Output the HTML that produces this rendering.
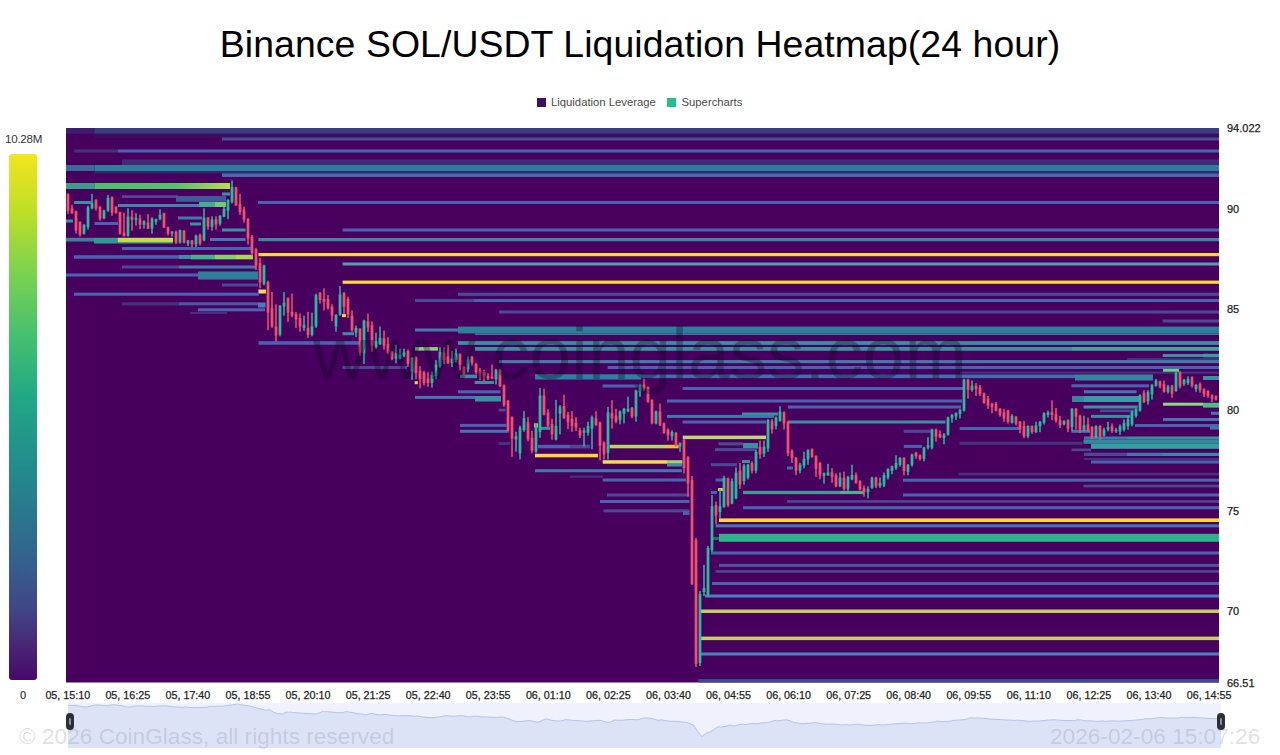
<!DOCTYPE html>
<html><head><meta charset="utf-8"><title>Binance SOL/USDT Liquidation Heatmap</title>
<style>
html,body{margin:0;padding:0;background:#fff;}
body{width:1280px;height:755px;position:relative;overflow:hidden;font-family:"Liberation Sans",sans-serif;}
.title{position:absolute;left:0;width:1280px;top:22px;text-align:center;font-size:37.4px;line-height:44px;color:#000;letter-spacing:0.08px;white-space:nowrap;}
.legend{position:absolute;top:95px;left:0;width:1280px;height:14px;font-size:11.3px;color:#4a4a4a;}
.legend .sq{position:absolute;top:2.5px;width:9.5px;height:9.5px;}
.legend span{position:absolute;top:0;line-height:14px;white-space:nowrap;}
.cbar{position:absolute;left:9px;top:154px;width:28px;height:525.7px;border-radius:3px;background:linear-gradient(to top,#48086a 0%,#482475 6%,#414487 13%,#355f8d 22%,#2a788e 32%,#21918c 43%,#22a884 54%,#44bf70 65%,#7ad151 77%,#bddf26 89%,#f3e51e 100%);}
.cl{position:absolute;font-size:11px;color:#333;white-space:nowrap;}
.xl{-webkit-text-stroke:0.25px #222;position:absolute;top:688px;width:80px;text-align:center;font-size:10.75px;line-height:14px;color:#222;white-space:nowrap;}
.yl{-webkit-text-stroke:0.25px #222;position:absolute;left:1227px;font-size:11px;line-height:14px;color:#222;white-space:nowrap;}
.wm{position:absolute;z-index:5;font-size:22.65px;color:rgba(120,120,130,0.24);white-space:nowrap;line-height:26px;}
.handle{position:absolute;z-index:6;top:713px;width:8px;height:17px;border-radius:4px;background:#2b2f3a;}
.handle i{position:absolute;left:3px;top:5px;width:2px;height:7px;background:#8a8fa0;border-radius:1px;}
svg{position:absolute;left:0;top:0;}
</style></head><body>
<div class="title">Binance SOL/USDT Liquidation Heatmap(24 hour)</div>
<div class="legend">
<div class="sq" style="left:536.5px;background:#3b1261"></div><span style="left:551px">Liquidation Leverage</span>
<div class="sq" style="left:666.5px;background:#1fc08c"></div><span style="left:681.5px">Supercharts</span>
</div>
<div class="cl" style="left:5px;top:131.5px;font-size:11.6px;letter-spacing:-0.25px">10.28M</div>
<div class="cbar"></div>
<div class="cl" style="left:20px;top:688.8px;-webkit-text-stroke:0.2px #333">0</div>
<svg width="1280" height="755" viewBox="0 0 1280 755">
<defs><linearGradient id="gg1" x1="0" x2="1" y1="0" y2="0"><stop offset="0" stop-color="#4fc06a"/><stop offset="0.6" stop-color="#52c26a"/><stop offset="0.85" stop-color="#8fd45c"/><stop offset="1" stop-color="#b8dc50"/></linearGradient><filter id="bl" x="-2%" y="-2%" width="104%" height="104%"><feGaussianBlur stdDeviation="0.55"/></filter></defs><g filter="url(#bl)">
<rect x="66" y="128" width="1153" height="554.5" fill="#47065d"/>
<rect x="66.0" y="128.0" width="28.6" height="5.8" fill="#3b1f70"/>
<rect x="94.6" y="128.0" width="1124.4" height="5.8" fill="#3a3d82"/>
<rect x="94.6" y="133.8" width="1124.4" height="3.7" fill="#3d0c5e"/>
<rect x="222.0" y="137.5" width="997.0" height="3.0" fill="#4d4c98"/>
<rect x="74.0" y="149.5" width="44.0" height="3.0" fill="#45307f"/>
<rect x="118.0" y="149.5" width="1101.0" height="3.0" fill="#4a64b0"/>
<rect x="122.0" y="159.6" width="1097.0" height="5.4" fill="#432a78"/>
<rect x="66.0" y="165.0" width="28.6" height="6.0" fill="#3a6a9a"/>
<rect x="94.6" y="165.0" width="1124.4" height="6.2" fill="#2e7d9a"/>
<rect x="94.6" y="171.2" width="1124.4" height="2.1" fill="#2f2c74"/>
<rect x="222.0" y="173.4" width="997.0" height="3.6" fill="#4a68b0"/>
<rect x="66.0" y="183.0" width="28.6" height="6.0" fill="#3f9a8a"/>
<rect x="94.6" y="183.0" width="135.4" height="6.0" fill="url(#gg1)"/>
<rect x="222.0" y="192.5" width="8.0" height="3.0" fill="#3a8fa2"/>
<rect x="122.0" y="195.3" width="56.0" height="2.6" fill="#54489a"/>
<rect x="176.0" y="196.0" width="50.0" height="5.8" fill="#3f5a9a"/>
<rect x="74.0" y="201.0" width="17.0" height="3.0" fill="#3a8fa2"/>
<rect x="258.0" y="201.0" width="961.0" height="3.0" fill="#4a64b0"/>
<rect x="118.0" y="204.0" width="81.0" height="3.0" fill="#3f86a8"/>
<rect x="199.0" y="202.0" width="16.0" height="5.0" fill="#3fae8a"/>
<rect x="215.0" y="202.0" width="11.0" height="5.0" fill="#6fcf70"/>
<rect x="178.0" y="216.5" width="24.0" height="3.0" fill="#4278ad"/>
<rect x="66.0" y="219.5" width="7.0" height="3.0" fill="#3a8fa2"/>
<rect x="94.6" y="222.0" width="23.4" height="3.0" fill="#4a64b0"/>
<rect x="190.0" y="222.5" width="11.0" height="3.0" fill="#3a8fa2"/>
<rect x="222.0" y="228.5" width="23.5" height="3.0" fill="#3a8fa2"/>
<rect x="342.6" y="228.5" width="876.4" height="3.0" fill="#4a64b0"/>
<rect x="66.0" y="237.8" width="28.0" height="3.7" fill="#3f7f9a"/>
<rect x="94.0" y="237.8" width="23.6" height="5.7" fill="#2f9a96"/>
<rect x="117.6" y="237.8" width="55.4" height="4.2" fill="#c5dc50"/>
<rect x="117.6" y="242.0" width="55.4" height="1.5" fill="#3fa08a"/>
<rect x="210.0" y="238.0" width="35.5" height="3.0" fill="#4278ad"/>
<rect x="258.4" y="238.0" width="960.6" height="3.2" fill="#3f86a0"/>
<rect x="122.0" y="247.0" width="129.0" height="3.0" fill="#4a64b0"/>
<rect x="258.4" y="253.0" width="960.6" height="3.2" fill="#fdd63a"/>
<rect x="74.0" y="255.2" width="105.0" height="3.5" fill="#4a64b0"/>
<rect x="179.0" y="255.0" width="12.0" height="4.0" fill="#3a8fa2"/>
<rect x="191.0" y="254.8" width="24.0" height="4.5" fill="#3fb58a"/>
<rect x="215.0" y="254.8" width="21.0" height="4.5" fill="#7fd565"/>
<rect x="236.0" y="254.8" width="17.0" height="4.5" fill="#a5da55"/>
<rect x="342.6" y="262.5" width="876.4" height="3.0" fill="#5b9ab0"/>
<rect x="122.0" y="265.5" width="57.0" height="3.0" fill="#4c4a95"/>
<rect x="179.0" y="265.5" width="77.0" height="3.0" fill="#4278ad"/>
<rect x="198.0" y="271.5" width="60.0" height="8.0" fill="#2f7f9c"/>
<rect x="66.0" y="273.5" width="132.0" height="3.0" fill="#4a64b0"/>
<rect x="342.6" y="280.6" width="876.4" height="3.2" fill="#fdd63a"/>
<rect x="222.0" y="283.5" width="36.0" height="3.0" fill="#4c4a95"/>
<rect x="258.4" y="289.5" width="7.6" height="4.0" fill="#f0e050"/>
<rect x="74.0" y="292.7" width="185.0" height="3.0" fill="#4a64b0"/>
<rect x="458.0" y="292.8" width="761.0" height="3.0" fill="#4c4a95"/>
<rect x="415.0" y="299.0" width="59.0" height="3.0" fill="#4c4a95"/>
<rect x="474.0" y="299.0" width="745.0" height="3.0" fill="#4a64b0"/>
<rect x="122.0" y="302.3" width="57.0" height="3.0" fill="#45307f"/>
<rect x="179.0" y="302.3" width="79.0" height="3.0" fill="#4a5aa5"/>
<rect x="258.0" y="302.5" width="7.6" height="5.0" fill="#4a7ab5"/>
<rect x="198.0" y="308.3" width="67.0" height="3.0" fill="#4a64b0"/>
<rect x="190.0" y="312.0" width="37.0" height="2.0" fill="#45307f"/>
<rect x="499.0" y="310.5" width="720.0" height="3.0" fill="#4c4a95"/>
<rect x="342.0" y="314.1" width="4.0" height="3.0" fill="#fdd63a"/>
<rect x="1162.7" y="319.5" width="56.3" height="3.0" fill="#4c4a95"/>
<rect x="415.0" y="328.5" width="43.0" height="3.0" fill="#4278ad"/>
<rect x="458.0" y="326.6" width="761.0" height="6.8" fill="#2f7f9b"/>
<rect x="475.0" y="333.4" width="744.0" height="1.6" fill="#357a9c"/>
<rect x="342.5" y="332.2" width="11.5" height="3.0" fill="#3a8fa2"/>
<rect x="258.6" y="341.2" width="100.4" height="3.5" fill="#4a64b0"/>
<rect x="458.0" y="341.1" width="761.0" height="3.8" fill="#3a8fa0"/>
<rect x="415.0" y="347.1" width="23.0" height="3.5" fill="#8fd080"/>
<rect x="475.0" y="347.0" width="597.0" height="3.8" fill="#3a90a0"/>
<rect x="1072.0" y="347.0" width="147.0" height="3.8" fill="#3fa59a"/>
<rect x="1162.7" y="354.0" width="40.3" height="3.0" fill="#3a8fa2"/>
<rect x="1203.0" y="353.8" width="16.0" height="3.5" fill="#35a0a0"/>
<rect x="1127.0" y="358.0" width="92.0" height="2.0" fill="#45307f"/>
<rect x="499.0" y="360.1" width="720.0" height="3.0" fill="#3f80a8"/>
<rect x="342.5" y="366.0" width="64.5" height="3.0" fill="#4c4a95"/>
<rect x="607.6" y="366.0" width="611.4" height="3.0" fill="#4a64b0"/>
<rect x="1163.0" y="368.9" width="16.0" height="3.5" fill="#6fd080"/>
<rect x="960.0" y="371.7" width="259.0" height="2.0" fill="#45307f"/>
<rect x="460.0" y="374.6" width="17.0" height="3.5" fill="#3a8fa2"/>
<rect x="535.0" y="374.3" width="106.0" height="5.2" fill="#2f80a0"/>
<rect x="641.0" y="374.6" width="434.0" height="3.5" fill="#4070b0"/>
<rect x="1075.0" y="374.5" width="78.0" height="6.0" fill="#3585a0"/>
<rect x="1203.0" y="376.0" width="16.0" height="4.0" fill="#3a8fa2"/>
<rect x="474.6" y="381.0" width="19.4" height="3.0" fill="#3a8fa2"/>
<rect x="414.7" y="381.2" width="3.1" height="3.0" fill="#fdd63a"/>
<rect x="602.7" y="384.5" width="35.3" height="3.0" fill="#4a64b0"/>
<rect x="1071.5" y="384.3" width="77.5" height="3.0" fill="#4a64b0"/>
<rect x="682.7" y="387.0" width="280.3" height="3.0" fill="#4a64b0"/>
<rect x="458.0" y="390.3" width="42.5" height="3.0" fill="#4a64b0"/>
<rect x="1084.0" y="390.3" width="52.5" height="3.0" fill="#4278ad"/>
<rect x="415.0" y="395.9" width="60.0" height="3.0" fill="#4278ad"/>
<rect x="475.0" y="396.0" width="26.0" height="5.5" fill="#3a8fa2"/>
<rect x="1072.0" y="396.0" width="12.0" height="6.0" fill="#3585a0"/>
<rect x="1084.0" y="396.0" width="57.0" height="6.0" fill="#3a9aa5"/>
<rect x="667.0" y="399.5" width="295.0" height="3.0" fill="#4a64b0"/>
<rect x="1163.0" y="402.7" width="40.0" height="3.0" fill="#90d880"/>
<rect x="1203.0" y="402.8" width="16.0" height="4.8" fill="#4cc080"/>
<rect x="788.0" y="405.5" width="173.0" height="3.0" fill="#4a64b0"/>
<rect x="1083.5" y="405.5" width="54.2" height="3.0" fill="#3a8fa2"/>
<rect x="498.7" y="408.8" width="6.9" height="2.5" fill="#4c4a95"/>
<rect x="1211.0" y="411.8" width="8.0" height="3.0" fill="#4278ad"/>
<rect x="1100.0" y="409.6" width="34.0" height="2.5" fill="#4c4a95"/>
<rect x="742.0" y="412.5" width="36.0" height="3.0" fill="#3a8fa2"/>
<rect x="667.0" y="414.9" width="107.0" height="3.0" fill="#4278ad"/>
<rect x="1091.0" y="414.9" width="39.5" height="3.0" fill="#3a8fa2"/>
<rect x="1163.0" y="418.0" width="56.0" height="3.0" fill="#4278ad"/>
<rect x="682.7" y="420.5" width="83.3" height="3.0" fill="#4a64b0"/>
<rect x="788.0" y="420.5" width="157.4" height="3.0" fill="#3a8fa2"/>
<rect x="460.0" y="423.9" width="46.5" height="3.0" fill="#4a64b0"/>
<rect x="534.0" y="423.4" width="4.0" height="4.0" fill="#fdd63a"/>
<rect x="1135.0" y="424.0" width="84.0" height="3.0" fill="#4a64b0"/>
<rect x="540.0" y="426.8" width="10.0" height="3.0" fill="#3a8fa2"/>
<rect x="959.7" y="427.0" width="59.3" height="3.0" fill="#4a64b0"/>
<rect x="1210.0" y="426.5" width="9.0" height="3.0" fill="#4278ad"/>
<rect x="460.0" y="429.8" width="47.0" height="3.0" fill="#4278ad"/>
<rect x="903.8" y="429.8" width="27.2" height="3.0" fill="#4c4a95"/>
<rect x="1071.5" y="429.8" width="18.5" height="3.0" fill="#4278ad"/>
<rect x="682.7" y="435.6" width="83.3" height="3.5" fill="#c0d870"/>
<rect x="1084.0" y="436.5" width="43.0" height="3.0" fill="#4278ad"/>
<rect x="1127.0" y="436.5" width="92.0" height="3.0" fill="#3a8fa2"/>
<rect x="1083.5" y="439.5" width="135.5" height="4.3" fill="#2f8a9c"/>
<rect x="1091.0" y="443.8" width="128.0" height="5.0" fill="#35a0a0"/>
<rect x="498.7" y="442.0" width="11.3" height="3.0" fill="#45307f"/>
<rect x="718.5" y="442.3" width="24.5" height="3.0" fill="#4c4a95"/>
<rect x="743.0" y="443.0" width="15.0" height="5.5" fill="#3a8fa2"/>
<rect x="959.7" y="441.9" width="122.9" height="3.0" fill="#45307f"/>
<rect x="538.0" y="444.8" width="52.0" height="3.5" fill="#4a64b0"/>
<rect x="570.0" y="445.0" width="20.0" height="3.0" fill="#4c4a95"/>
<rect x="609.6" y="444.8" width="56.4" height="3.5" fill="#b5d860"/>
<rect x="666.0" y="444.8" width="12.7" height="3.5" fill="#f5c040"/>
<rect x="903.8" y="444.9" width="18.2" height="3.0" fill="#4a64b0"/>
<rect x="715.0" y="448.1" width="41.6" height="3.0" fill="#4c4a95"/>
<rect x="1071.5" y="448.6" width="19.5" height="2.5" fill="#4c4a95"/>
<rect x="1084.0" y="452.8" width="43.0" height="3.2" fill="#4c4a95"/>
<rect x="1127.0" y="452.8" width="36.0" height="3.2" fill="#4278ad"/>
<rect x="1163.0" y="452.8" width="56.0" height="3.2" fill="#3a88a8"/>
<rect x="535.0" y="453.8" width="63.0" height="3.5" fill="#fdd63a"/>
<rect x="1084.0" y="458.0" width="135.0" height="2.0" fill="#45307f"/>
<rect x="602.7" y="460.2" width="64.3" height="3.5" fill="#f0dc50"/>
<rect x="667.0" y="460.2" width="15.3" height="3.5" fill="#a5d565"/>
<rect x="742.0" y="460.0" width="8.0" height="3.0" fill="#3a8fa2"/>
<rect x="1091.0" y="460.5" width="128.0" height="3.0" fill="#4a64b0"/>
<rect x="667.0" y="463.5" width="15.0" height="3.0" fill="#3a8fa2"/>
<rect x="711.0" y="463.2" width="26.0" height="3.0" fill="#4c4a95"/>
<rect x="787.0" y="466.5" width="6.0" height="3.0" fill="#4a64b0"/>
<rect x="535.0" y="469.2" width="147.0" height="3.0" fill="#4278ad"/>
<rect x="958.6" y="472.8" width="260.4" height="2.5" fill="#45307f"/>
<rect x="570.0" y="475.7" width="33.0" height="2.0" fill="#45307f"/>
<rect x="602.7" y="478.5" width="83.3" height="3.0" fill="#4a64b0"/>
<rect x="715.6" y="478.5" width="8.4" height="3.0" fill="#4a64b0"/>
<rect x="903.0" y="478.7" width="316.0" height="3.0" fill="#4a64b0"/>
<rect x="1083.5" y="484.8" width="135.5" height="2.5" fill="#4c4a95"/>
<rect x="718.0" y="488.0" width="4.8" height="3.0" fill="#fdd63a"/>
<rect x="711.0" y="491.0" width="6.0" height="3.0" fill="#4a64b0"/>
<rect x="743.0" y="490.9" width="97.0" height="3.2" fill="#3f9a9a"/>
<rect x="840.0" y="490.9" width="24.0" height="3.2" fill="#4fae90"/>
<rect x="607.0" y="493.5" width="82.4" height="3.0" fill="#4c4a95"/>
<rect x="903.0" y="493.5" width="316.0" height="3.0" fill="#4a64b0"/>
<rect x="600.0" y="500.0" width="89.4" height="3.0" fill="#4a64b0"/>
<rect x="787.0" y="500.2" width="432.0" height="2.5" fill="#4c4a95"/>
<rect x="743.0" y="506.2" width="476.0" height="3.0" fill="#4a64b0"/>
<rect x="603.6" y="509.3" width="85.8" height="3.0" fill="#4c4a95"/>
<rect x="683.0" y="511.0" width="6.4" height="4.0" fill="#4a64b0"/>
<rect x="719.0" y="518.4" width="500.0" height="3.6" fill="#fdd63a"/>
<rect x="715.7" y="524.3" width="503.3" height="3.0" fill="#4278ad"/>
<rect x="712.0" y="537.0" width="7.0" height="3.0" fill="#2a6a7a"/>
<rect x="719.0" y="533.8" width="500.0" height="8.0" fill="#2fb38a"/>
<rect x="711.0" y="551.5" width="508.0" height="3.0" fill="#4a64b0"/>
<rect x="719.0" y="563.9" width="500.0" height="3.0" fill="#4a55a0"/>
<rect x="715.7" y="570.2" width="503.3" height="2.5" fill="#4c4a95"/>
<rect x="712.0" y="582.0" width="507.0" height="3.0" fill="#4a64b0"/>
<rect x="705.0" y="594.5" width="514.0" height="3.0" fill="#4a7fc0"/>
<rect x="700.0" y="609.5" width="519.0" height="3.5" fill="#c4cf62"/>
<rect x="700.0" y="636.6" width="519.0" height="3.5" fill="#c6cf60"/>
<rect x="701.0" y="652.5" width="518.0" height="3.0" fill="#4a80c0"/>
<rect x="698.4" y="679.0" width="520.6" height="3.5" fill="#3a4a90"/>
<rect x="67.25" y="193.4" width="1.5" height="20.4" fill="#f0516f"/>
<rect x="66.65" y="193.9" width="2.7" height="16.9" fill="#f0516f"/>
<rect x="71.25" y="204.8" width="1.5" height="8.9" fill="#f0516f"/>
<rect x="70.65" y="208.3" width="2.7" height="5.0" fill="#f0516f"/>
<rect x="75.25" y="210.7" width="1.5" height="22.8" fill="#f0516f"/>
<rect x="74.65" y="211.2" width="2.7" height="19.4" fill="#f0516f"/>
<rect x="79.25" y="221.7" width="1.5" height="14.9" fill="#f0516f"/>
<rect x="78.65" y="221.7" width="2.7" height="12.9" fill="#f0516f"/>
<rect x="83.25" y="224.2" width="1.5" height="10.4" fill="#2fb89f"/>
<rect x="82.65" y="224.7" width="2.7" height="8.9" fill="#2fb89f"/>
<rect x="87.25" y="205.8" width="1.5" height="23.8" fill="#2fb89f"/>
<rect x="86.65" y="207.3" width="2.7" height="19.9" fill="#2fb89f"/>
<rect x="91.25" y="193.9" width="1.5" height="15.4" fill="#2fb89f"/>
<rect x="90.65" y="202.8" width="2.7" height="5.5" fill="#2fb89f"/>
<rect x="95.25" y="199.3" width="1.5" height="11.4" fill="#f0516f"/>
<rect x="94.65" y="199.8" width="2.7" height="8.9" fill="#f0516f"/>
<rect x="99.25" y="206.3" width="1.5" height="14.4" fill="#f0516f"/>
<rect x="98.65" y="206.8" width="2.7" height="11.9" fill="#f0516f"/>
<rect x="103.25" y="209.8" width="1.5" height="9.4" fill="#2fb89f"/>
<rect x="102.65" y="210.3" width="2.7" height="7.9" fill="#2fb89f"/>
<rect x="107.25" y="194.9" width="1.5" height="16.9" fill="#2fb89f"/>
<rect x="106.65" y="197.8" width="2.7" height="12.9" fill="#2fb89f"/>
<rect x="111.25" y="196.4" width="1.5" height="19.4" fill="#f0516f"/>
<rect x="110.65" y="197.3" width="2.7" height="15.4" fill="#f0516f"/>
<rect x="115.25" y="206.3" width="1.5" height="7.4" fill="#f0516f"/>
<rect x="114.65" y="206.8" width="2.7" height="6.0" fill="#f0516f"/>
<rect x="119.25" y="211.7" width="1.5" height="22.8" fill="#f0516f"/>
<rect x="118.65" y="212.2" width="2.7" height="21.4" fill="#f0516f"/>
<rect x="123.25" y="212.7" width="1.5" height="23.8" fill="#f0516f"/>
<rect x="122.65" y="232.6" width="2.7" height="3.5" fill="#f0516f"/>
<rect x="127.25" y="208.3" width="1.5" height="28.3" fill="#2fb89f"/>
<rect x="126.65" y="216.7" width="2.7" height="18.9" fill="#2fb89f"/>
<rect x="131.25" y="210.3" width="1.5" height="20.4" fill="#f0516f"/>
<rect x="130.65" y="216.7" width="2.7" height="3.0" fill="#f0516f"/>
<rect x="135.25" y="213.2" width="1.5" height="12.4" fill="#2fb89f"/>
<rect x="134.65" y="217.7" width="2.7" height="2.0" fill="#2fb89f"/>
<rect x="139.25" y="214.7" width="1.5" height="14.4" fill="#f0516f"/>
<rect x="138.65" y="218.7" width="2.7" height="6.0" fill="#f0516f"/>
<rect x="143.25" y="220.2" width="1.5" height="8.4" fill="#2fb89f"/>
<rect x="142.65" y="221.2" width="2.7" height="3.5" fill="#2fb89f"/>
<rect x="147.25" y="214.2" width="1.5" height="14.9" fill="#f0516f"/>
<rect x="146.65" y="222.7" width="2.7" height="6.0" fill="#f0516f"/>
<rect x="151.25" y="217.2" width="1.5" height="16.4" fill="#2fb89f"/>
<rect x="150.65" y="218.7" width="2.7" height="9.9" fill="#2fb89f"/>
<rect x="155.25" y="218.7" width="1.5" height="6.0" fill="#2fb89f"/>
<rect x="154.65" y="219.2" width="2.7" height="2.5" fill="#2fb89f"/>
<rect x="159.25" y="209.3" width="1.5" height="10.9" fill="#2fb89f"/>
<rect x="158.65" y="214.7" width="2.7" height="4.5" fill="#2fb89f"/>
<rect x="163.25" y="212.7" width="1.5" height="15.4" fill="#f0516f"/>
<rect x="162.65" y="213.2" width="2.7" height="14.4" fill="#f0516f"/>
<rect x="167.25" y="226.6" width="1.5" height="8.9" fill="#f0516f"/>
<rect x="166.65" y="227.1" width="2.7" height="6.5" fill="#f0516f"/>
<rect x="171.25" y="231.1" width="1.5" height="5.5" fill="#2fb89f"/>
<rect x="170.65" y="231.6" width="2.7" height="2.0" fill="#2fb89f"/>
<rect x="175.25" y="230.6" width="1.5" height="13.4" fill="#f0516f"/>
<rect x="174.65" y="231.6" width="2.7" height="10.9" fill="#f0516f"/>
<rect x="179.25" y="229.6" width="1.5" height="13.9" fill="#2fb89f"/>
<rect x="178.65" y="230.1" width="2.7" height="12.4" fill="#2fb89f"/>
<rect x="183.25" y="230.1" width="1.5" height="13.4" fill="#f0516f"/>
<rect x="182.65" y="230.6" width="2.7" height="11.9" fill="#f0516f"/>
<rect x="187.25" y="240.0" width="1.5" height="6.0" fill="#2fb89f"/>
<rect x="186.65" y="240.5" width="2.7" height="3.0" fill="#2fb89f"/>
<rect x="191.25" y="240.0" width="1.5" height="7.0" fill="#f0516f"/>
<rect x="190.65" y="240.5" width="2.7" height="4.0" fill="#f0516f"/>
<rect x="195.25" y="234.6" width="1.5" height="12.4" fill="#2fb89f"/>
<rect x="194.65" y="235.6" width="2.7" height="8.9" fill="#2fb89f"/>
<rect x="199.25" y="233.6" width="1.5" height="11.9" fill="#f0516f"/>
<rect x="198.65" y="235.1" width="2.7" height="8.4" fill="#f0516f"/>
<rect x="203.25" y="208.3" width="1.5" height="32.8" fill="#2fb89f"/>
<rect x="202.65" y="217.7" width="2.7" height="22.8" fill="#2fb89f"/>
<rect x="207.25" y="217.2" width="1.5" height="12.4" fill="#f0516f"/>
<rect x="206.65" y="217.7" width="2.7" height="8.9" fill="#f0516f"/>
<rect x="211.25" y="216.2" width="1.5" height="14.4" fill="#2fb89f"/>
<rect x="210.65" y="219.7" width="2.7" height="7.0" fill="#2fb89f"/>
<rect x="215.25" y="216.2" width="1.5" height="13.4" fill="#f0516f"/>
<rect x="214.65" y="219.2" width="2.7" height="5.5" fill="#f0516f"/>
<rect x="219.25" y="215.2" width="1.5" height="10.4" fill="#2fb89f"/>
<rect x="218.65" y="215.7" width="2.7" height="7.9" fill="#2fb89f"/>
<rect x="223.25" y="206.8" width="1.5" height="10.4" fill="#2fb89f"/>
<rect x="222.65" y="208.8" width="2.7" height="7.9" fill="#2fb89f"/>
<rect x="227.25" y="199.3" width="1.5" height="19.9" fill="#2fb89f"/>
<rect x="226.65" y="199.8" width="2.7" height="10.9" fill="#2fb89f"/>
<rect x="231.25" y="180.5" width="1.5" height="22.8" fill="#2fb89f"/>
<rect x="230.65" y="186.9" width="2.7" height="15.4" fill="#2fb89f"/>
<rect x="235.25" y="186.9" width="1.5" height="18.9" fill="#f0516f"/>
<rect x="234.65" y="187.4" width="2.7" height="17.9" fill="#f0516f"/>
<rect x="239.25" y="193.9" width="1.5" height="20.9" fill="#f0516f"/>
<rect x="238.65" y="203.8" width="2.7" height="8.4" fill="#f0516f"/>
<rect x="243.25" y="206.8" width="1.5" height="15.9" fill="#f0516f"/>
<rect x="242.65" y="209.3" width="2.7" height="10.4" fill="#f0516f"/>
<rect x="247.25" y="218.2" width="1.5" height="26.3" fill="#f0516f"/>
<rect x="246.65" y="218.7" width="2.7" height="19.9" fill="#f0516f"/>
<rect x="251.25" y="235.0" width="1.5" height="20.6" fill="#f0516f"/>
<rect x="250.65" y="236.5" width="2.7" height="16.8" fill="#f0516f"/>
<rect x="255.25" y="247.9" width="1.5" height="22.1" fill="#f0516f"/>
<rect x="254.65" y="249.5" width="2.7" height="16.0" fill="#f0516f"/>
<rect x="259.25" y="257.8" width="1.5" height="30.5" fill="#f0516f"/>
<rect x="258.65" y="263.2" width="2.7" height="19.0" fill="#f0516f"/>
<rect x="263.25" y="264.7" width="1.5" height="20.6" fill="#2fb89f"/>
<rect x="262.65" y="265.5" width="2.7" height="18.3" fill="#2fb89f"/>
<rect x="267.25" y="280.7" width="1.5" height="49.5" fill="#f0516f"/>
<rect x="266.65" y="282.2" width="2.7" height="30.5" fill="#f0516f"/>
<rect x="271.25" y="292.1" width="1.5" height="35.8" fill="#f0516f"/>
<rect x="270.65" y="308.1" width="2.7" height="18.3" fill="#f0516f"/>
<rect x="275.25" y="304.3" width="1.5" height="37.3" fill="#f0516f"/>
<rect x="274.65" y="326.4" width="2.7" height="9.1" fill="#f0516f"/>
<rect x="279.25" y="305.0" width="1.5" height="31.2" fill="#2fb89f"/>
<rect x="278.65" y="305.8" width="2.7" height="28.9" fill="#2fb89f"/>
<rect x="283.25" y="292.1" width="1.5" height="23.6" fill="#2fb89f"/>
<rect x="282.65" y="302.8" width="2.7" height="3.8" fill="#2fb89f"/>
<rect x="287.25" y="297.4" width="1.5" height="24.4" fill="#f0516f"/>
<rect x="286.65" y="298.2" width="2.7" height="14.5" fill="#f0516f"/>
<rect x="291.25" y="293.6" width="1.5" height="23.6" fill="#f0516f"/>
<rect x="290.65" y="311.9" width="2.7" height="3.8" fill="#f0516f"/>
<rect x="295.25" y="311.9" width="1.5" height="16.0" fill="#f0516f"/>
<rect x="294.65" y="314.2" width="2.7" height="5.3" fill="#f0516f"/>
<rect x="299.25" y="313.4" width="1.5" height="18.3" fill="#f0516f"/>
<rect x="298.65" y="318.0" width="2.7" height="8.4" fill="#f0516f"/>
<rect x="303.25" y="315.7" width="1.5" height="15.2" fill="#2fb89f"/>
<rect x="302.65" y="324.8" width="2.7" height="3.0" fill="#2fb89f"/>
<rect x="307.25" y="311.9" width="1.5" height="25.9" fill="#f0516f"/>
<rect x="306.65" y="327.9" width="2.7" height="6.9" fill="#f0516f"/>
<rect x="311.25" y="312.7" width="1.5" height="23.6" fill="#2fb89f"/>
<rect x="310.65" y="326.4" width="2.7" height="8.4" fill="#2fb89f"/>
<rect x="315.25" y="293.6" width="1.5" height="34.3" fill="#2fb89f"/>
<rect x="314.65" y="295.1" width="2.7" height="31.2" fill="#2fb89f"/>
<rect x="319.25" y="292.1" width="1.5" height="11.4" fill="#f0516f"/>
<rect x="318.65" y="292.9" width="2.7" height="6.9" fill="#f0516f"/>
<rect x="323.25" y="288.3" width="1.5" height="22.1" fill="#f0516f"/>
<rect x="322.65" y="299.0" width="2.7" height="3.0" fill="#f0516f"/>
<rect x="327.25" y="295.1" width="1.5" height="14.5" fill="#f0516f"/>
<rect x="326.65" y="299.0" width="2.7" height="9.1" fill="#f0516f"/>
<rect x="331.25" y="304.3" width="1.5" height="16.8" fill="#f0516f"/>
<rect x="330.65" y="306.6" width="2.7" height="9.1" fill="#f0516f"/>
<rect x="335.25" y="314.2" width="1.5" height="17.5" fill="#2fb89f"/>
<rect x="334.65" y="314.9" width="2.7" height="11.4" fill="#2fb89f"/>
<rect x="339.25" y="286.0" width="1.5" height="29.7" fill="#2fb89f"/>
<rect x="338.65" y="294.4" width="2.7" height="20.6" fill="#2fb89f"/>
<rect x="343.25" y="292.1" width="1.5" height="22.1" fill="#f0516f"/>
<rect x="342.65" y="292.9" width="2.7" height="13.7" fill="#f0516f"/>
<rect x="347.25" y="296.7" width="1.5" height="21.3" fill="#f0516f"/>
<rect x="346.65" y="299.0" width="2.7" height="15.2" fill="#f0516f"/>
<rect x="351.25" y="310.4" width="1.5" height="21.3" fill="#f0516f"/>
<rect x="350.65" y="315.7" width="2.7" height="14.5" fill="#f0516f"/>
<rect x="355.25" y="325.6" width="1.5" height="11.4" fill="#2fb89f"/>
<rect x="354.65" y="327.9" width="2.7" height="4.6" fill="#2fb89f"/>
<rect x="359.25" y="328.2" width="1.5" height="27.4" fill="#f0516f"/>
<rect x="358.65" y="328.9" width="2.7" height="23.6" fill="#f0516f"/>
<rect x="363.25" y="319.8" width="1.5" height="44.2" fill="#2fb89f"/>
<rect x="362.65" y="320.6" width="2.7" height="32.7" fill="#2fb89f"/>
<rect x="367.25" y="313.7" width="1.5" height="18.3" fill="#f0516f"/>
<rect x="366.65" y="321.3" width="2.7" height="6.1" fill="#f0516f"/>
<rect x="371.25" y="321.3" width="1.5" height="30.5" fill="#f0516f"/>
<rect x="370.65" y="325.1" width="2.7" height="20.6" fill="#f0516f"/>
<rect x="375.25" y="332.7" width="1.5" height="16.0" fill="#2fb89f"/>
<rect x="374.65" y="341.1" width="2.7" height="6.1" fill="#2fb89f"/>
<rect x="379.25" y="326.6" width="1.5" height="18.3" fill="#2fb89f"/>
<rect x="378.65" y="338.1" width="2.7" height="6.1" fill="#2fb89f"/>
<rect x="383.25" y="330.5" width="1.5" height="19.0" fill="#f0516f"/>
<rect x="382.65" y="338.1" width="2.7" height="7.6" fill="#f0516f"/>
<rect x="387.25" y="337.3" width="1.5" height="16.8" fill="#f0516f"/>
<rect x="386.65" y="344.2" width="2.7" height="8.4" fill="#f0516f"/>
<rect x="391.25" y="351.0" width="1.5" height="9.1" fill="#f0516f"/>
<rect x="390.65" y="351.8" width="2.7" height="6.9" fill="#f0516f"/>
<rect x="395.25" y="344.9" width="1.5" height="18.3" fill="#2fb89f"/>
<rect x="394.65" y="353.3" width="2.7" height="5.3" fill="#2fb89f"/>
<rect x="399.25" y="348.7" width="1.5" height="10.7" fill="#2fb89f"/>
<rect x="398.65" y="354.8" width="2.7" height="3.8" fill="#2fb89f"/>
<rect x="403.25" y="348.7" width="1.5" height="8.4" fill="#2fb89f"/>
<rect x="402.65" y="352.5" width="2.7" height="3.0" fill="#2fb89f"/>
<rect x="407.25" y="349.5" width="1.5" height="17.5" fill="#f0516f"/>
<rect x="406.65" y="351.0" width="2.7" height="12.9" fill="#f0516f"/>
<rect x="411.25" y="357.1" width="1.5" height="22.8" fill="#2fb89f"/>
<rect x="410.65" y="357.9" width="2.7" height="13.7" fill="#2fb89f"/>
<rect x="415.25" y="356.3" width="1.5" height="22.8" fill="#f0516f"/>
<rect x="414.65" y="357.1" width="2.7" height="16.0" fill="#f0516f"/>
<rect x="419.25" y="366.2" width="1.5" height="22.1" fill="#f0516f"/>
<rect x="418.65" y="370.8" width="2.7" height="8.4" fill="#f0516f"/>
<rect x="423.25" y="370.8" width="1.5" height="14.5" fill="#f0516f"/>
<rect x="422.65" y="372.3" width="2.7" height="10.7" fill="#f0516f"/>
<rect x="427.25" y="372.3" width="1.5" height="14.5" fill="#f0516f"/>
<rect x="426.65" y="378.4" width="2.7" height="4.6" fill="#f0516f"/>
<rect x="431.25" y="371.6" width="1.5" height="16.0" fill="#2fb89f"/>
<rect x="430.65" y="374.6" width="2.7" height="8.4" fill="#2fb89f"/>
<rect x="435.25" y="360.1" width="1.5" height="19.0" fill="#2fb89f"/>
<rect x="434.65" y="364.7" width="2.7" height="11.4" fill="#2fb89f"/>
<rect x="439.25" y="347.2" width="1.5" height="20.6" fill="#2fb89f"/>
<rect x="438.65" y="351.8" width="2.7" height="14.5" fill="#2fb89f"/>
<rect x="443.25" y="347.2" width="1.5" height="16.8" fill="#f0516f"/>
<rect x="442.65" y="352.5" width="2.7" height="7.6" fill="#f0516f"/>
<rect x="447.25" y="344.9" width="1.5" height="19.0" fill="#f0516f"/>
<rect x="446.65" y="356.3" width="2.7" height="6.9" fill="#f0516f"/>
<rect x="451.25" y="351.0" width="1.5" height="16.0" fill="#2fb89f"/>
<rect x="450.65" y="358.6" width="2.7" height="4.6" fill="#2fb89f"/>
<rect x="455.25" y="348.7" width="1.5" height="13.7" fill="#2fb89f"/>
<rect x="454.65" y="353.3" width="2.7" height="6.9" fill="#2fb89f"/>
<rect x="459.25" y="353.3" width="1.5" height="16.8" fill="#f0516f"/>
<rect x="458.65" y="354.1" width="2.7" height="10.7" fill="#f0516f"/>
<rect x="463.25" y="366.2" width="1.5" height="9.9" fill="#f0516f"/>
<rect x="462.65" y="367.0" width="2.7" height="7.6" fill="#f0516f"/>
<rect x="467.25" y="356.3" width="1.5" height="16.0" fill="#2fb89f"/>
<rect x="466.65" y="359.4" width="2.7" height="9.9" fill="#2fb89f"/>
<rect x="471.25" y="356.0" width="1.5" height="9.5" fill="#f0516f"/>
<rect x="470.65" y="356.9" width="2.7" height="6.0" fill="#f0516f"/>
<rect x="475.25" y="362.9" width="1.5" height="11.2" fill="#f0516f"/>
<rect x="474.65" y="363.8" width="2.7" height="8.6" fill="#f0516f"/>
<rect x="479.25" y="368.1" width="1.5" height="12.1" fill="#f0516f"/>
<rect x="478.65" y="370.7" width="2.7" height="2.6" fill="#f0516f"/>
<rect x="483.25" y="369.8" width="1.5" height="11.2" fill="#f0516f"/>
<rect x="482.65" y="372.4" width="2.7" height="4.3" fill="#f0516f"/>
<rect x="487.25" y="373.2" width="1.5" height="6.9" fill="#f0516f"/>
<rect x="486.65" y="375.8" width="2.7" height="2.6" fill="#f0516f"/>
<rect x="491.25" y="364.6" width="1.5" height="14.6" fill="#f0516f"/>
<rect x="490.65" y="376.7" width="2.7" height="1.7" fill="#f0516f"/>
<rect x="495.25" y="368.9" width="1.5" height="15.5" fill="#2fb89f"/>
<rect x="494.65" y="369.8" width="2.7" height="9.5" fill="#2fb89f"/>
<rect x="499.25" y="368.9" width="1.5" height="18.1" fill="#f0516f"/>
<rect x="498.65" y="369.8" width="2.7" height="16.4" fill="#f0516f"/>
<rect x="503.25" y="384.4" width="1.5" height="22.4" fill="#f0516f"/>
<rect x="502.65" y="385.3" width="2.7" height="19.8" fill="#f0516f"/>
<rect x="507.25" y="399.9" width="1.5" height="32.7" fill="#f0516f"/>
<rect x="506.65" y="400.8" width="2.7" height="30.1" fill="#f0516f"/>
<rect x="511.25" y="416.3" width="1.5" height="40.5" fill="#f0516f"/>
<rect x="510.65" y="417.1" width="2.7" height="21.5" fill="#f0516f"/>
<rect x="515.25" y="431.8" width="1.5" height="19.8" fill="#2fb89f"/>
<rect x="514.65" y="436.1" width="2.7" height="3.4" fill="#2fb89f"/>
<rect x="519.25" y="425.8" width="1.5" height="33.6" fill="#2fb89f"/>
<rect x="518.65" y="427.5" width="2.7" height="25.8" fill="#2fb89f"/>
<rect x="523.25" y="411.1" width="1.5" height="20.7" fill="#2fb89f"/>
<rect x="522.65" y="418.0" width="2.7" height="12.1" fill="#2fb89f"/>
<rect x="527.25" y="417.1" width="1.5" height="24.1" fill="#f0516f"/>
<rect x="526.65" y="422.3" width="2.7" height="17.2" fill="#f0516f"/>
<rect x="531.25" y="430.9" width="1.5" height="22.4" fill="#f0516f"/>
<rect x="530.65" y="437.8" width="2.7" height="12.9" fill="#f0516f"/>
<rect x="535.25" y="423.2" width="1.5" height="30.1" fill="#2fb89f"/>
<rect x="534.65" y="424.0" width="2.7" height="27.5" fill="#2fb89f"/>
<rect x="539.25" y="387.9" width="1.5" height="49.9" fill="#2fb89f"/>
<rect x="538.65" y="395.6" width="2.7" height="36.2" fill="#2fb89f"/>
<rect x="543.25" y="388.7" width="1.5" height="26.7" fill="#f0516f"/>
<rect x="542.65" y="395.6" width="2.7" height="18.9" fill="#f0516f"/>
<rect x="547.25" y="409.4" width="1.5" height="18.1" fill="#f0516f"/>
<rect x="546.65" y="412.8" width="2.7" height="12.9" fill="#f0516f"/>
<rect x="551.25" y="418.9" width="1.5" height="20.7" fill="#f0516f"/>
<rect x="550.65" y="424.0" width="2.7" height="10.3" fill="#f0516f"/>
<rect x="555.25" y="399.9" width="1.5" height="40.5" fill="#2fb89f"/>
<rect x="554.65" y="425.8" width="2.7" height="13.8" fill="#2fb89f"/>
<rect x="559.25" y="405.1" width="1.5" height="29.3" fill="#2fb89f"/>
<rect x="558.65" y="406.8" width="2.7" height="6.9" fill="#2fb89f"/>
<rect x="563.25" y="394.8" width="1.5" height="24.1" fill="#f0516f"/>
<rect x="562.65" y="406.0" width="2.7" height="12.1" fill="#f0516f"/>
<rect x="567.25" y="412.0" width="1.5" height="17.2" fill="#f0516f"/>
<rect x="566.65" y="414.6" width="2.7" height="7.7" fill="#f0516f"/>
<rect x="571.25" y="411.1" width="1.5" height="20.7" fill="#f0516f"/>
<rect x="570.65" y="418.9" width="2.7" height="6.9" fill="#f0516f"/>
<rect x="575.25" y="417.1" width="1.5" height="13.8" fill="#f0516f"/>
<rect x="574.65" y="422.3" width="2.7" height="5.2" fill="#f0516f"/>
<rect x="579.25" y="427.7" width="1.5" height="10.3" fill="#f0516f"/>
<rect x="578.65" y="430.3" width="2.7" height="5.2" fill="#f0516f"/>
<rect x="583.25" y="427.7" width="1.5" height="18.9" fill="#2fb89f"/>
<rect x="582.65" y="430.3" width="2.7" height="2.6" fill="#2fb89f"/>
<rect x="587.25" y="421.7" width="1.5" height="13.8" fill="#2fb89f"/>
<rect x="586.65" y="426.0" width="2.7" height="6.9" fill="#2fb89f"/>
<rect x="591.25" y="415.6" width="1.5" height="33.6" fill="#2fb89f"/>
<rect x="590.65" y="417.3" width="2.7" height="11.2" fill="#2fb89f"/>
<rect x="595.25" y="411.3" width="1.5" height="14.6" fill="#f0516f"/>
<rect x="594.65" y="418.2" width="2.7" height="6.9" fill="#f0516f"/>
<rect x="599.25" y="421.7" width="1.5" height="38.7" fill="#f0516f"/>
<rect x="598.65" y="422.5" width="2.7" height="23.2" fill="#f0516f"/>
<rect x="603.25" y="441.5" width="1.5" height="18.1" fill="#f0516f"/>
<rect x="602.65" y="442.3" width="2.7" height="12.1" fill="#f0516f"/>
<rect x="607.25" y="407.0" width="1.5" height="52.5" fill="#2fb89f"/>
<rect x="606.65" y="412.2" width="2.7" height="40.5" fill="#2fb89f"/>
<rect x="611.25" y="400.1" width="1.5" height="28.4" fill="#f0516f"/>
<rect x="610.65" y="413.0" width="2.7" height="5.2" fill="#f0516f"/>
<rect x="615.25" y="408.7" width="1.5" height="14.6" fill="#f0516f"/>
<rect x="614.65" y="415.6" width="2.7" height="6.0" fill="#f0516f"/>
<rect x="619.25" y="410.5" width="1.5" height="13.8" fill="#2fb89f"/>
<rect x="618.65" y="411.3" width="2.7" height="8.6" fill="#2fb89f"/>
<rect x="623.25" y="407.9" width="1.5" height="15.5" fill="#2fb89f"/>
<rect x="622.65" y="408.7" width="2.7" height="5.2" fill="#2fb89f"/>
<rect x="627.25" y="396.7" width="1.5" height="15.5" fill="#2fb89f"/>
<rect x="626.65" y="408.7" width="2.7" height="2.6" fill="#2fb89f"/>
<rect x="631.25" y="407.0" width="1.5" height="11.2" fill="#f0516f"/>
<rect x="630.65" y="407.9" width="2.7" height="8.6" fill="#f0516f"/>
<rect x="635.25" y="389.8" width="1.5" height="31.9" fill="#2fb89f"/>
<rect x="634.65" y="390.7" width="2.7" height="25.8" fill="#2fb89f"/>
<rect x="639.25" y="383.8" width="1.5" height="12.9" fill="#2fb89f"/>
<rect x="638.65" y="384.6" width="2.7" height="7.7" fill="#2fb89f"/>
<rect x="643.25" y="378.6" width="1.5" height="12.1" fill="#f0516f"/>
<rect x="642.65" y="384.6" width="2.7" height="4.3" fill="#f0516f"/>
<rect x="647.25" y="386.4" width="1.5" height="16.4" fill="#f0516f"/>
<rect x="646.65" y="387.2" width="2.7" height="14.6" fill="#f0516f"/>
<rect x="651.25" y="399.3" width="1.5" height="25.0" fill="#f0516f"/>
<rect x="650.65" y="400.1" width="2.7" height="23.2" fill="#f0516f"/>
<rect x="655.25" y="410.5" width="1.5" height="13.8" fill="#2fb89f"/>
<rect x="654.65" y="411.3" width="2.7" height="12.1" fill="#2fb89f"/>
<rect x="659.25" y="403.6" width="1.5" height="22.4" fill="#f0516f"/>
<rect x="658.65" y="411.3" width="2.7" height="13.8" fill="#f0516f"/>
<rect x="663.25" y="422.5" width="1.5" height="11.2" fill="#f0516f"/>
<rect x="662.65" y="423.4" width="2.7" height="9.5" fill="#f0516f"/>
<rect x="667.25" y="428.5" width="1.5" height="12.1" fill="#f0516f"/>
<rect x="666.65" y="429.4" width="2.7" height="6.0" fill="#f0516f"/>
<rect x="671.25" y="430.3" width="1.5" height="10.3" fill="#2fb89f"/>
<rect x="670.65" y="432.0" width="2.7" height="4.3" fill="#2fb89f"/>
<rect x="675.25" y="432.0" width="1.5" height="14.6" fill="#f0516f"/>
<rect x="674.65" y="432.9" width="2.7" height="12.9" fill="#f0516f"/>
<rect x="679.25" y="442.3" width="1.5" height="9.5" fill="#2fb89f"/>
<rect x="678.65" y="443.2" width="2.7" height="3.4" fill="#2fb89f"/>
<rect x="683.25" y="438.9" width="1.5" height="34.4" fill="#f0516f"/>
<rect x="682.65" y="439.8" width="2.7" height="28.4" fill="#f0516f"/>
<rect x="687.25" y="456.1" width="1.5" height="40.5" fill="#f0516f"/>
<rect x="686.65" y="457.0" width="2.7" height="26.7" fill="#f0516f"/>
<rect x="691.25" y="476.0" width="1.5" height="109.0" fill="#f0516f"/>
<rect x="690.65" y="480.0" width="2.7" height="104.0" fill="#f0516f"/>
<rect x="695.25" y="538.0" width="1.5" height="129.0" fill="#f0516f"/>
<rect x="694.65" y="540.0" width="2.7" height="124.0" fill="#f0516f"/>
<rect x="699.25" y="591.0" width="1.5" height="75.0" fill="#2fb89f"/>
<rect x="698.65" y="594.0" width="2.7" height="69.0" fill="#2fb89f"/>
<rect x="703.25" y="565.0" width="1.5" height="31.0" fill="#2fb89f"/>
<rect x="702.65" y="588.0" width="2.7" height="4.0" fill="#2fb89f"/>
<rect x="707.25" y="546.0" width="1.5" height="51.0" fill="#2fb89f"/>
<rect x="706.65" y="548.0" width="2.7" height="47.0" fill="#2fb89f"/>
<rect x="711.25" y="495.0" width="1.5" height="57.0" fill="#2fb89f"/>
<rect x="710.65" y="506.0" width="2.7" height="44.0" fill="#2fb89f"/>
<rect x="715.25" y="501.7" width="1.5" height="22.4" fill="#f0516f"/>
<rect x="714.65" y="505.2" width="2.7" height="10.3" fill="#f0516f"/>
<rect x="719.25" y="488.8" width="1.5" height="30.1" fill="#2fb89f"/>
<rect x="718.65" y="506.1" width="2.7" height="6.0" fill="#2fb89f"/>
<rect x="723.25" y="475.9" width="1.5" height="31.9" fill="#2fb89f"/>
<rect x="722.65" y="477.6" width="2.7" height="29.3" fill="#2fb89f"/>
<rect x="727.25" y="477.6" width="1.5" height="29.3" fill="#f0516f"/>
<rect x="726.65" y="478.5" width="2.7" height="26.7" fill="#f0516f"/>
<rect x="731.25" y="478.5" width="1.5" height="25.8" fill="#2fb89f"/>
<rect x="730.65" y="481.1" width="2.7" height="22.4" fill="#2fb89f"/>
<rect x="735.25" y="467.3" width="1.5" height="31.9" fill="#2fb89f"/>
<rect x="734.65" y="472.5" width="2.7" height="25.8" fill="#2fb89f"/>
<rect x="739.25" y="463.0" width="1.5" height="25.8" fill="#f0516f"/>
<rect x="738.65" y="470.8" width="2.7" height="13.8" fill="#f0516f"/>
<rect x="743.25" y="463.9" width="1.5" height="20.7" fill="#2fb89f"/>
<rect x="742.65" y="465.6" width="2.7" height="15.5" fill="#2fb89f"/>
<rect x="747.25" y="463.9" width="1.5" height="15.5" fill="#2fb89f"/>
<rect x="746.65" y="464.7" width="2.7" height="12.9" fill="#2fb89f"/>
<rect x="751.25" y="461.3" width="1.5" height="12.1" fill="#f0516f"/>
<rect x="750.65" y="463.0" width="2.7" height="7.7" fill="#f0516f"/>
<rect x="755.25" y="450.1" width="1.5" height="23.2" fill="#2fb89f"/>
<rect x="754.65" y="451.8" width="2.7" height="18.9" fill="#2fb89f"/>
<rect x="759.25" y="440.6" width="1.5" height="18.1" fill="#f0516f"/>
<rect x="758.65" y="446.7" width="2.7" height="7.7" fill="#f0516f"/>
<rect x="763.25" y="440.6" width="1.5" height="16.4" fill="#2fb89f"/>
<rect x="762.65" y="446.7" width="2.7" height="6.9" fill="#2fb89f"/>
<rect x="767.25" y="419.1" width="1.5" height="32.7" fill="#2fb89f"/>
<rect x="766.65" y="420.0" width="2.7" height="28.4" fill="#2fb89f"/>
<rect x="771.25" y="419.1" width="1.5" height="14.6" fill="#f0516f"/>
<rect x="770.65" y="420.8" width="2.7" height="8.6" fill="#f0516f"/>
<rect x="775.25" y="416.5" width="1.5" height="12.9" fill="#2fb89f"/>
<rect x="774.65" y="417.4" width="2.7" height="8.6" fill="#2fb89f"/>
<rect x="779.25" y="406.2" width="1.5" height="15.5" fill="#2fb89f"/>
<rect x="778.65" y="411.4" width="2.7" height="9.5" fill="#2fb89f"/>
<rect x="783.25" y="411.4" width="1.5" height="18.1" fill="#f0516f"/>
<rect x="782.65" y="412.2" width="2.7" height="11.2" fill="#f0516f"/>
<rect x="787.25" y="420.8" width="1.5" height="35.3" fill="#f0516f"/>
<rect x="786.65" y="421.7" width="2.7" height="31.9" fill="#f0516f"/>
<rect x="791.25" y="449.2" width="1.5" height="13.8" fill="#f0516f"/>
<rect x="790.65" y="451.0" width="2.7" height="6.9" fill="#f0516f"/>
<rect x="795.25" y="457.0" width="1.5" height="18.1" fill="#f0516f"/>
<rect x="794.65" y="457.8" width="2.7" height="12.9" fill="#f0516f"/>
<rect x="799.25" y="463.0" width="1.5" height="10.3" fill="#2fb89f"/>
<rect x="798.65" y="464.7" width="2.7" height="6.0" fill="#2fb89f"/>
<rect x="803.25" y="451.8" width="1.5" height="16.4" fill="#2fb89f"/>
<rect x="802.65" y="458.7" width="2.7" height="6.9" fill="#2fb89f"/>
<rect x="807.25" y="449.2" width="1.5" height="15.5" fill="#2fb89f"/>
<rect x="806.65" y="450.1" width="2.7" height="9.5" fill="#2fb89f"/>
<rect x="811.25" y="448.4" width="1.5" height="9.5" fill="#f0516f"/>
<rect x="810.65" y="449.2" width="2.7" height="7.7" fill="#f0516f"/>
<rect x="815.25" y="455.3" width="1.5" height="21.5" fill="#f0516f"/>
<rect x="814.65" y="456.1" width="2.7" height="12.9" fill="#f0516f"/>
<rect x="819.25" y="462.1" width="1.5" height="17.2" fill="#f0516f"/>
<rect x="818.65" y="463.0" width="2.7" height="12.1" fill="#f0516f"/>
<rect x="823.25" y="472.5" width="1.5" height="11.2" fill="#2fb89f"/>
<rect x="822.65" y="473.3" width="2.7" height="2.6" fill="#2fb89f"/>
<rect x="827.25" y="463.9" width="1.5" height="12.1" fill="#2fb89f"/>
<rect x="826.65" y="472.5" width="2.7" height="2.6" fill="#2fb89f"/>
<rect x="831.25" y="468.2" width="1.5" height="14.6" fill="#f0516f"/>
<rect x="830.65" y="472.5" width="2.7" height="4.3" fill="#f0516f"/>
<rect x="835.25" y="473.3" width="1.5" height="13.8" fill="#f0516f"/>
<rect x="834.65" y="475.1" width="2.7" height="11.2" fill="#f0516f"/>
<rect x="839.25" y="472.5" width="1.5" height="14.6" fill="#2fb89f"/>
<rect x="838.65" y="477.6" width="2.7" height="8.6" fill="#2fb89f"/>
<rect x="843.25" y="471.6" width="1.5" height="18.9" fill="#f0516f"/>
<rect x="842.65" y="477.6" width="2.7" height="11.2" fill="#f0516f"/>
<rect x="847.25" y="475.9" width="1.5" height="15.5" fill="#2fb89f"/>
<rect x="846.65" y="476.8" width="2.7" height="12.1" fill="#2fb89f"/>
<rect x="851.25" y="464.7" width="1.5" height="15.5" fill="#2fb89f"/>
<rect x="850.65" y="475.1" width="2.7" height="4.3" fill="#2fb89f"/>
<rect x="855.25" y="472.5" width="1.5" height="11.2" fill="#f0516f"/>
<rect x="854.65" y="475.1" width="2.7" height="7.7" fill="#f0516f"/>
<rect x="859.25" y="480.2" width="1.5" height="10.3" fill="#f0516f"/>
<rect x="858.65" y="481.1" width="2.7" height="8.6" fill="#f0516f"/>
<rect x="863.25" y="485.4" width="1.5" height="11.2" fill="#f0516f"/>
<rect x="862.65" y="488.0" width="2.7" height="4.3" fill="#f0516f"/>
<rect x="867.25" y="486.3" width="1.5" height="12.1" fill="#2fb89f"/>
<rect x="866.65" y="488.8" width="2.7" height="3.4" fill="#2fb89f"/>
<rect x="871.25" y="476.8" width="1.5" height="12.1" fill="#2fb89f"/>
<rect x="870.65" y="477.6" width="2.7" height="10.3" fill="#2fb89f"/>
<rect x="875.25" y="476.8" width="1.5" height="11.2" fill="#f0516f"/>
<rect x="874.65" y="477.6" width="2.7" height="8.6" fill="#f0516f"/>
<rect x="879.25" y="477.6" width="1.5" height="10.3" fill="#2fb89f"/>
<rect x="878.65" y="482.8" width="2.7" height="3.4" fill="#2fb89f"/>
<rect x="883.25" y="472.5" width="1.5" height="14.6" fill="#2fb89f"/>
<rect x="882.65" y="475.1" width="2.7" height="10.3" fill="#2fb89f"/>
<rect x="887.25" y="468.2" width="1.5" height="11.2" fill="#2fb89f"/>
<rect x="886.65" y="469.0" width="2.7" height="8.6" fill="#2fb89f"/>
<rect x="891.25" y="465.6" width="1.5" height="8.6" fill="#2fb89f"/>
<rect x="890.65" y="466.5" width="2.7" height="4.3" fill="#2fb89f"/>
<rect x="895.25" y="455.3" width="1.5" height="14.6" fill="#2fb89f"/>
<rect x="894.65" y="463.0" width="2.7" height="5.2" fill="#2fb89f"/>
<rect x="899.25" y="457.1" width="1.5" height="9.5" fill="#2fb89f"/>
<rect x="898.65" y="458.0" width="2.7" height="6.9" fill="#2fb89f"/>
<rect x="903.25" y="457.1" width="1.5" height="18.1" fill="#f0516f"/>
<rect x="902.65" y="458.0" width="2.7" height="12.9" fill="#f0516f"/>
<rect x="907.25" y="464.0" width="1.5" height="11.2" fill="#2fb89f"/>
<rect x="906.65" y="464.9" width="2.7" height="6.9" fill="#2fb89f"/>
<rect x="911.25" y="453.7" width="1.5" height="12.9" fill="#2fb89f"/>
<rect x="910.65" y="454.5" width="2.7" height="10.3" fill="#2fb89f"/>
<rect x="915.25" y="451.9" width="1.5" height="6.9" fill="#f0516f"/>
<rect x="914.65" y="452.8" width="2.7" height="3.4" fill="#f0516f"/>
<rect x="919.25" y="454.5" width="1.5" height="6.0" fill="#f0516f"/>
<rect x="918.65" y="455.4" width="2.7" height="3.4" fill="#f0516f"/>
<rect x="923.25" y="446.8" width="1.5" height="14.6" fill="#2fb89f"/>
<rect x="922.65" y="447.6" width="2.7" height="11.2" fill="#2fb89f"/>
<rect x="927.25" y="437.3" width="1.5" height="12.1" fill="#2fb89f"/>
<rect x="926.65" y="445.1" width="2.7" height="2.6" fill="#2fb89f"/>
<rect x="931.25" y="428.7" width="1.5" height="20.7" fill="#2fb89f"/>
<rect x="930.65" y="429.6" width="2.7" height="18.1" fill="#2fb89f"/>
<rect x="935.25" y="428.7" width="1.5" height="12.9" fill="#f0516f"/>
<rect x="934.65" y="429.6" width="2.7" height="6.9" fill="#f0516f"/>
<rect x="939.25" y="430.4" width="1.5" height="7.7" fill="#f0516f"/>
<rect x="938.65" y="433.9" width="2.7" height="3.4" fill="#f0516f"/>
<rect x="943.25" y="433.0" width="1.5" height="11.2" fill="#2fb89f"/>
<rect x="942.65" y="434.7" width="2.7" height="3.4" fill="#2fb89f"/>
<rect x="947.25" y="416.7" width="1.5" height="18.9" fill="#2fb89f"/>
<rect x="946.65" y="417.5" width="2.7" height="17.2" fill="#2fb89f"/>
<rect x="951.25" y="414.1" width="1.5" height="8.6" fill="#2fb89f"/>
<rect x="950.65" y="414.9" width="2.7" height="3.4" fill="#2fb89f"/>
<rect x="955.25" y="412.3" width="1.5" height="7.7" fill="#2fb89f"/>
<rect x="954.65" y="413.2" width="2.7" height="3.4" fill="#2fb89f"/>
<rect x="959.25" y="408.9" width="1.5" height="9.5" fill="#2fb89f"/>
<rect x="958.65" y="409.8" width="2.7" height="4.3" fill="#2fb89f"/>
<rect x="963.25" y="378.8" width="1.5" height="32.7" fill="#2fb89f"/>
<rect x="962.65" y="379.6" width="2.7" height="31.0" fill="#2fb89f"/>
<rect x="967.25" y="378.8" width="1.5" height="19.8" fill="#f0516f"/>
<rect x="966.65" y="379.6" width="2.7" height="10.3" fill="#f0516f"/>
<rect x="971.25" y="380.5" width="1.5" height="11.2" fill="#2fb89f"/>
<rect x="970.65" y="385.7" width="2.7" height="4.3" fill="#2fb89f"/>
<rect x="975.25" y="383.1" width="1.5" height="12.9" fill="#f0516f"/>
<rect x="974.65" y="385.7" width="2.7" height="3.4" fill="#f0516f"/>
<rect x="979.25" y="384.8" width="1.5" height="11.2" fill="#f0516f"/>
<rect x="978.65" y="387.4" width="2.7" height="6.9" fill="#f0516f"/>
<rect x="983.25" y="392.5" width="1.5" height="11.2" fill="#f0516f"/>
<rect x="982.65" y="393.4" width="2.7" height="9.5" fill="#f0516f"/>
<rect x="987.25" y="396.0" width="1.5" height="12.9" fill="#f0516f"/>
<rect x="986.65" y="398.6" width="2.7" height="6.9" fill="#f0516f"/>
<rect x="991.25" y="402.9" width="1.5" height="10.3" fill="#f0516f"/>
<rect x="990.65" y="403.7" width="2.7" height="3.4" fill="#f0516f"/>
<rect x="995.25" y="402.0" width="1.5" height="9.5" fill="#f0516f"/>
<rect x="994.65" y="403.7" width="2.7" height="6.9" fill="#f0516f"/>
<rect x="999.25" y="408.0" width="1.5" height="8.6" fill="#f0516f"/>
<rect x="998.65" y="408.9" width="2.7" height="6.0" fill="#f0516f"/>
<rect x="1003.25" y="408.9" width="1.5" height="12.9" fill="#f0516f"/>
<rect x="1002.65" y="412.3" width="2.7" height="6.0" fill="#f0516f"/>
<rect x="1007.25" y="409.8" width="1.5" height="13.8" fill="#f0516f"/>
<rect x="1006.65" y="410.6" width="2.7" height="11.2" fill="#f0516f"/>
<rect x="1011.25" y="414.1" width="1.5" height="9.5" fill="#2fb89f"/>
<rect x="1010.65" y="415.8" width="2.7" height="6.9" fill="#2fb89f"/>
<rect x="1015.25" y="415.8" width="1.5" height="9.5" fill="#f0516f"/>
<rect x="1014.65" y="416.7" width="2.7" height="6.9" fill="#f0516f"/>
<rect x="1019.25" y="421.0" width="1.5" height="12.1" fill="#f0516f"/>
<rect x="1018.65" y="421.8" width="2.7" height="7.7" fill="#f0516f"/>
<rect x="1023.25" y="421.0" width="1.5" height="17.2" fill="#f0516f"/>
<rect x="1022.65" y="426.1" width="2.7" height="10.3" fill="#f0516f"/>
<rect x="1027.25" y="425.3" width="1.5" height="12.9" fill="#2fb89f"/>
<rect x="1026.65" y="426.1" width="2.7" height="10.3" fill="#2fb89f"/>
<rect x="1031.25" y="425.3" width="1.5" height="8.6" fill="#f0516f"/>
<rect x="1030.65" y="426.1" width="2.7" height="6.0" fill="#f0516f"/>
<rect x="1035.25" y="421.8" width="1.5" height="11.2" fill="#2fb89f"/>
<rect x="1034.65" y="425.3" width="2.7" height="6.9" fill="#2fb89f"/>
<rect x="1039.25" y="421.0" width="1.5" height="11.2" fill="#2fb89f"/>
<rect x="1038.65" y="421.8" width="2.7" height="4.3" fill="#2fb89f"/>
<rect x="1043.25" y="412.3" width="1.5" height="12.1" fill="#2fb89f"/>
<rect x="1042.65" y="413.2" width="2.7" height="9.5" fill="#2fb89f"/>
<rect x="1047.25" y="410.6" width="1.5" height="6.9" fill="#2fb89f"/>
<rect x="1046.65" y="412.3" width="2.7" height="2.6" fill="#2fb89f"/>
<rect x="1051.25" y="400.3" width="1.5" height="19.8" fill="#f0516f"/>
<rect x="1050.65" y="412.3" width="2.7" height="2.6" fill="#f0516f"/>
<rect x="1055.25" y="408.0" width="1.5" height="14.6" fill="#f0516f"/>
<rect x="1054.65" y="414.1" width="2.7" height="6.9" fill="#f0516f"/>
<rect x="1059.25" y="415.8" width="1.5" height="12.1" fill="#f0516f"/>
<rect x="1058.65" y="420.1" width="2.7" height="5.2" fill="#f0516f"/>
<rect x="1063.25" y="420.1" width="1.5" height="5.2" fill="#2fb89f"/>
<rect x="1062.65" y="421.0" width="2.7" height="3.4" fill="#2fb89f"/>
<rect x="1067.25" y="419.2" width="1.5" height="12.9" fill="#f0516f"/>
<rect x="1066.65" y="420.1" width="2.7" height="8.6" fill="#f0516f"/>
<rect x="1071.25" y="408.0" width="1.5" height="23.2" fill="#2fb89f"/>
<rect x="1070.65" y="408.9" width="2.7" height="18.1" fill="#2fb89f"/>
<rect x="1075.25" y="408.0" width="1.5" height="21.5" fill="#f0516f"/>
<rect x="1074.65" y="408.9" width="2.7" height="7.7" fill="#f0516f"/>
<rect x="1079.25" y="414.9" width="1.5" height="18.1" fill="#f0516f"/>
<rect x="1078.65" y="415.8" width="2.7" height="13.8" fill="#f0516f"/>
<rect x="1083.25" y="415.8" width="1.5" height="15.5" fill="#2fb89f"/>
<rect x="1082.65" y="425.3" width="2.7" height="4.3" fill="#2fb89f"/>
<rect x="1087.25" y="417.5" width="1.5" height="14.6" fill="#f0516f"/>
<rect x="1086.65" y="424.4" width="2.7" height="6.0" fill="#f0516f"/>
<rect x="1091.25" y="426.1" width="1.5" height="12.9" fill="#f0516f"/>
<rect x="1090.65" y="427.0" width="2.7" height="10.3" fill="#f0516f"/>
<rect x="1095.25" y="425.3" width="1.5" height="12.9" fill="#2fb89f"/>
<rect x="1094.65" y="426.1" width="2.7" height="11.2" fill="#2fb89f"/>
<rect x="1099.25" y="425.3" width="1.5" height="14.6" fill="#f0516f"/>
<rect x="1098.65" y="426.1" width="2.7" height="10.3" fill="#f0516f"/>
<rect x="1103.25" y="427.8" width="1.5" height="8.6" fill="#2fb89f"/>
<rect x="1102.65" y="429.6" width="2.7" height="6.0" fill="#2fb89f"/>
<rect x="1107.25" y="421.8" width="1.5" height="9.5" fill="#2fb89f"/>
<rect x="1106.65" y="427.0" width="2.7" height="2.6" fill="#2fb89f"/>
<rect x="1111.25" y="423.5" width="1.5" height="9.5" fill="#f0516f"/>
<rect x="1110.65" y="426.1" width="2.7" height="5.2" fill="#f0516f"/>
<rect x="1115.25" y="427.8" width="1.5" height="5.2" fill="#2fb89f"/>
<rect x="1114.65" y="429.6" width="2.7" height="1.7" fill="#2fb89f"/>
<rect x="1119.25" y="424.5" width="1.5" height="10.3" fill="#2fb89f"/>
<rect x="1118.65" y="426.3" width="2.7" height="5.2" fill="#2fb89f"/>
<rect x="1123.25" y="419.4" width="1.5" height="12.1" fill="#2fb89f"/>
<rect x="1122.65" y="422.8" width="2.7" height="6.9" fill="#2fb89f"/>
<rect x="1127.25" y="415.9" width="1.5" height="13.8" fill="#2fb89f"/>
<rect x="1126.65" y="419.4" width="2.7" height="6.9" fill="#2fb89f"/>
<rect x="1131.25" y="410.8" width="1.5" height="15.5" fill="#2fb89f"/>
<rect x="1130.65" y="411.6" width="2.7" height="12.9" fill="#2fb89f"/>
<rect x="1135.25" y="408.2" width="1.5" height="9.5" fill="#2fb89f"/>
<rect x="1134.65" y="409.0" width="2.7" height="6.9" fill="#2fb89f"/>
<rect x="1139.25" y="394.4" width="1.5" height="17.2" fill="#2fb89f"/>
<rect x="1138.65" y="395.3" width="2.7" height="15.5" fill="#2fb89f"/>
<rect x="1143.25" y="390.1" width="1.5" height="12.9" fill="#f0516f"/>
<rect x="1142.65" y="392.7" width="2.7" height="9.5" fill="#f0516f"/>
<rect x="1147.25" y="390.1" width="1.5" height="14.6" fill="#2fb89f"/>
<rect x="1146.65" y="391.8" width="2.7" height="9.5" fill="#2fb89f"/>
<rect x="1151.25" y="384.1" width="1.5" height="15.5" fill="#2fb89f"/>
<rect x="1150.65" y="384.9" width="2.7" height="9.5" fill="#2fb89f"/>
<rect x="1155.25" y="378.9" width="1.5" height="7.7" fill="#2fb89f"/>
<rect x="1154.65" y="380.6" width="2.7" height="5.2" fill="#2fb89f"/>
<rect x="1159.25" y="380.6" width="1.5" height="7.7" fill="#f0516f"/>
<rect x="1158.65" y="381.5" width="2.7" height="5.2" fill="#f0516f"/>
<rect x="1163.25" y="380.6" width="1.5" height="12.1" fill="#f0516f"/>
<rect x="1162.65" y="384.1" width="2.7" height="7.7" fill="#f0516f"/>
<rect x="1167.25" y="384.9" width="1.5" height="8.6" fill="#2fb89f"/>
<rect x="1166.65" y="386.7" width="2.7" height="5.2" fill="#2fb89f"/>
<rect x="1171.25" y="384.9" width="1.5" height="12.9" fill="#f0516f"/>
<rect x="1170.65" y="385.8" width="2.7" height="7.7" fill="#f0516f"/>
<rect x="1175.25" y="372.0" width="1.5" height="19.8" fill="#2fb89f"/>
<rect x="1174.65" y="372.9" width="2.7" height="18.1" fill="#2fb89f"/>
<rect x="1179.25" y="371.2" width="1.5" height="17.2" fill="#f0516f"/>
<rect x="1178.65" y="372.0" width="2.7" height="14.6" fill="#f0516f"/>
<rect x="1183.25" y="378.9" width="1.5" height="6.9" fill="#2fb89f"/>
<rect x="1182.65" y="379.8" width="2.7" height="4.3" fill="#2fb89f"/>
<rect x="1187.25" y="376.3" width="1.5" height="8.6" fill="#2fb89f"/>
<rect x="1186.65" y="378.9" width="2.7" height="4.3" fill="#2fb89f"/>
<rect x="1191.25" y="376.3" width="1.5" height="11.2" fill="#f0516f"/>
<rect x="1190.65" y="377.2" width="2.7" height="8.6" fill="#f0516f"/>
<rect x="1195.25" y="384.1" width="1.5" height="7.7" fill="#2fb89f"/>
<rect x="1194.65" y="384.9" width="2.7" height="4.3" fill="#2fb89f"/>
<rect x="1199.25" y="382.3" width="1.5" height="10.3" fill="#f0516f"/>
<rect x="1198.65" y="384.1" width="2.7" height="6.0" fill="#f0516f"/>
<rect x="1203.25" y="388.4" width="1.5" height="8.6" fill="#f0516f"/>
<rect x="1202.65" y="389.2" width="2.7" height="5.2" fill="#f0516f"/>
<rect x="1207.25" y="390.1" width="1.5" height="7.7" fill="#f0516f"/>
<rect x="1206.65" y="391.0" width="2.7" height="5.2" fill="#f0516f"/>
<rect x="1211.25" y="394.4" width="1.5" height="7.7" fill="#f0516f"/>
<rect x="1210.65" y="395.3" width="2.7" height="3.4" fill="#f0516f"/>
<rect x="1215.25" y="395.3" width="1.5" height="5.2" fill="#f0516f"/>
<rect x="1214.65" y="396.1" width="2.7" height="3.4" fill="#f0516f"/>
<text x="640" y="378.5" text-anchor="middle" font-family="Liberation Sans, sans-serif" font-size="74.5" fill="#14082a" fill-opacity="0.34" textLength="654" lengthAdjust="spacingAndGlyphs">www.coinglass.com</text>
</g>
<rect x="68" y="703" width="1153" height="45" fill="#eff2fc"/>
<path d="M68,748 L68,705.4 L74.0,705.4 L78.0,705.7 L82.0,706.7 L86.0,707.0 L90.0,706.3 L94.0,705.2 L98.0,704.9 L102.0,705.3 L106.0,705.8 L110.0,705.3 L114.0,704.6 L118.0,705.4 L122.0,705.7 L126.0,706.9 L130.0,707.0 L134.0,706.0 L138.0,706.0 L142.0,705.9 L146.0,706.3 L150.0,706.2 L154.0,706.5 L158.0,706.0 L162.0,705.9 L166.0,705.8 L170.0,706.5 L174.0,706.9 L178.0,707.0 L182.0,707.5 L186.0,706.9 L190.0,707.5 L194.0,707.5 L198.0,707.7 L202.0,707.3 L206.0,707.5 L210.0,706.1 L214.0,706.4 L218.0,706.1 L222.0,706.3 L226.0,705.7 L230.0,705.2 L234.0,704.6 L238.0,703.9 L242.0,704.9 L246.0,705.5 L250.0,706.1 L254.0,707.3 L258.0,708.4 L262.0,709.3 L266.0,710.2 L270.0,709.7 L274.0,712.4 L278.0,713.6 L282.0,714.0 L286.0,712.4 L290.0,712.0 L294.0,712.6 L298.0,712.9 L302.0,713.2 L306.0,713.6 L310.0,713.6 L314.0,714.1 L318.0,713.5 L322.0,711.7 L326.0,711.7 L330.0,711.9 L334.0,712.3 L338.0,712.8 L342.0,712.7 L346.0,711.6 L350.0,712.2 L354.0,712.8 L358.0,713.8 L362.0,713.9 L366.0,715.1 L370.0,713.5 L374.0,713.8 L378.0,714.9 L382.0,714.7 L386.0,714.5 L390.0,715.0 L394.0,715.5 L398.0,715.9 L402.0,715.6 L406.0,715.6 L410.0,715.6 L414.0,716.2 L418.0,716.0 L422.0,716.9 L426.0,717.4 L430.0,717.7 L434.0,717.6 L438.0,717.1 L442.0,716.4 L446.0,715.6 L450.0,716.0 L454.0,716.2 L458.0,715.9 L462.0,715.7 L466.0,716.4 L470.0,716.9 L474.0,716.1 L478.0,716.3 L482.0,716.9 L486.0,717.0 L490.0,717.2 L494.0,717.3 L498.0,717.3 L502.0,716.9 L506.0,717.9 L510.0,719.3 L514.0,721.0 L518.0,721.6 L522.0,721.4 L526.0,720.9 L530.0,720.4 L534.0,721.7 L538.0,722.3 L542.0,720.6 L546.0,718.9 L550.0,719.9 L554.0,720.7 L558.0,721.2 L562.0,720.7 L566.0,719.6 L570.0,720.1 L574.0,720.5 L578.0,720.7 L582.0,720.9 L586.0,721.3 L590.0,721.1 L594.0,720.7 L598.0,720.3 L602.0,720.8 L606.0,722.1 L610.0,722.4 L614.0,720.1 L618.0,720.2 L622.0,720.3 L626.0,719.8 L630.0,719.5 L634.0,719.6 L638.0,719.8 L642.0,718.4 L646.0,717.9 L650.0,718.2 L654.0,719.1 L658.0,720.3 L662.0,719.9 L666.0,720.7 L670.0,721.2 L674.0,721.4 L678.0,721.3 L682.0,722.1 L686.0,722.2 L690.0,723.7 L694.0,725.5 L698.0,731.9 L702.0,736.7 L706.0,733.2 L710.0,732.1 L714.0,729.5 L718.0,726.8 L722.0,727.0 L726.0,726.3 L730.0,724.9 L734.0,726.1 L738.0,724.8 L742.0,724.2 L746.0,724.7 L750.0,723.7 L754.0,723.6 L758.0,723.8 L762.0,722.8 L766.0,722.7 L770.0,722.1 L774.0,720.6 L778.0,720.9 L782.0,720.2 L786.0,719.8 L790.0,720.7 L794.0,722.5 L798.0,723.1 L802.0,723.8 L806.0,723.5 L810.0,723.1 L814.0,722.6 L818.0,723.0 L822.0,723.8 L826.0,724.2 L830.0,724.1 L834.0,724.1 L838.0,724.4 L842.0,724.9 L846.0,724.6 L850.0,725.1 L854.0,724.5 L858.0,724.3 L862.0,724.8 L866.0,725.3 L870.0,725.5 L874.0,725.2 L878.0,724.6 L882.0,725.0 L886.0,724.8 L890.0,724.3 L894.0,723.9 L898.0,723.6 L902.0,723.4 L906.0,723.2 L910.0,723.8 L914.0,723.5 L918.0,722.9 L922.0,722.9 L926.0,723.0 L930.0,722.4 L934.0,722.0 L938.0,721.2 L942.0,721.5 L946.0,721.5 L950.0,721.3 L954.0,720.3 L958.0,720.0 L962.0,719.8 L966.0,719.4 L970.0,717.7 L974.0,718.1 L978.0,717.9 L982.0,718.1 L986.0,718.5 L990.0,719.1 L994.0,719.3 L998.0,719.4 L1002.0,719.7 L1006.0,720.0 L1010.0,720.2 L1014.0,720.4 L1018.0,720.1 L1022.0,720.6 L1026.0,721.0 L1030.0,721.4 L1034.0,720.9 L1038.0,721.1 L1042.0,720.7 L1046.0,720.4 L1050.0,719.9 L1054.0,719.8 L1058.0,720.0 L1062.0,720.4 L1066.0,720.6 L1070.0,720.5 L1074.0,720.8 L1078.0,719.7 L1082.0,720.1 L1086.0,720.9 L1090.0,720.8 L1094.0,721.1 L1098.0,721.4 L1102.0,720.9 L1106.0,721.4 L1110.0,721.0 L1114.0,720.9 L1118.0,721.1 L1122.0,721.0 L1126.0,720.8 L1130.0,720.5 L1134.0,720.3 L1138.0,719.8 L1142.0,719.5 L1146.0,718.7 L1150.0,718.9 L1154.0,718.3 L1158.0,717.8 L1162.0,717.6 L1166.0,717.9 L1170.0,718.2 L1174.0,718.0 L1178.0,718.2 L1182.0,717.2 L1186.0,717.8 L1190.0,717.5 L1194.0,717.4 L1198.0,717.8 L1202.0,717.9 L1206.0,718.2 L1210.0,718.5 L1214.0,718.6 L1218.0,718.8 L1221.0,718.9 L1221,718.9 L1221,748 Z" fill="#dde3f7"/>
<path d="M68,705.4 L74.0,705.4 L78.0,705.7 L82.0,706.7 L86.0,707.0 L90.0,706.3 L94.0,705.2 L98.0,704.9 L102.0,705.3 L106.0,705.8 L110.0,705.3 L114.0,704.6 L118.0,705.4 L122.0,705.7 L126.0,706.9 L130.0,707.0 L134.0,706.0 L138.0,706.0 L142.0,705.9 L146.0,706.3 L150.0,706.2 L154.0,706.5 L158.0,706.0 L162.0,705.9 L166.0,705.8 L170.0,706.5 L174.0,706.9 L178.0,707.0 L182.0,707.5 L186.0,706.9 L190.0,707.5 L194.0,707.5 L198.0,707.7 L202.0,707.3 L206.0,707.5 L210.0,706.1 L214.0,706.4 L218.0,706.1 L222.0,706.3 L226.0,705.7 L230.0,705.2 L234.0,704.6 L238.0,703.9 L242.0,704.9 L246.0,705.5 L250.0,706.1 L254.0,707.3 L258.0,708.4 L262.0,709.3 L266.0,710.2 L270.0,709.7 L274.0,712.4 L278.0,713.6 L282.0,714.0 L286.0,712.4 L290.0,712.0 L294.0,712.6 L298.0,712.9 L302.0,713.2 L306.0,713.6 L310.0,713.6 L314.0,714.1 L318.0,713.5 L322.0,711.7 L326.0,711.7 L330.0,711.9 L334.0,712.3 L338.0,712.8 L342.0,712.7 L346.0,711.6 L350.0,712.2 L354.0,712.8 L358.0,713.8 L362.0,713.9 L366.0,715.1 L370.0,713.5 L374.0,713.8 L378.0,714.9 L382.0,714.7 L386.0,714.5 L390.0,715.0 L394.0,715.5 L398.0,715.9 L402.0,715.6 L406.0,715.6 L410.0,715.6 L414.0,716.2 L418.0,716.0 L422.0,716.9 L426.0,717.4 L430.0,717.7 L434.0,717.6 L438.0,717.1 L442.0,716.4 L446.0,715.6 L450.0,716.0 L454.0,716.2 L458.0,715.9 L462.0,715.7 L466.0,716.4 L470.0,716.9 L474.0,716.1 L478.0,716.3 L482.0,716.9 L486.0,717.0 L490.0,717.2 L494.0,717.3 L498.0,717.3 L502.0,716.9 L506.0,717.9 L510.0,719.3 L514.0,721.0 L518.0,721.6 L522.0,721.4 L526.0,720.9 L530.0,720.4 L534.0,721.7 L538.0,722.3 L542.0,720.6 L546.0,718.9 L550.0,719.9 L554.0,720.7 L558.0,721.2 L562.0,720.7 L566.0,719.6 L570.0,720.1 L574.0,720.5 L578.0,720.7 L582.0,720.9 L586.0,721.3 L590.0,721.1 L594.0,720.7 L598.0,720.3 L602.0,720.8 L606.0,722.1 L610.0,722.4 L614.0,720.1 L618.0,720.2 L622.0,720.3 L626.0,719.8 L630.0,719.5 L634.0,719.6 L638.0,719.8 L642.0,718.4 L646.0,717.9 L650.0,718.2 L654.0,719.1 L658.0,720.3 L662.0,719.9 L666.0,720.7 L670.0,721.2 L674.0,721.4 L678.0,721.3 L682.0,722.1 L686.0,722.2 L690.0,723.7 L694.0,725.5 L698.0,731.9 L702.0,736.7 L706.0,733.2 L710.0,732.1 L714.0,729.5 L718.0,726.8 L722.0,727.0 L726.0,726.3 L730.0,724.9 L734.0,726.1 L738.0,724.8 L742.0,724.2 L746.0,724.7 L750.0,723.7 L754.0,723.6 L758.0,723.8 L762.0,722.8 L766.0,722.7 L770.0,722.1 L774.0,720.6 L778.0,720.9 L782.0,720.2 L786.0,719.8 L790.0,720.7 L794.0,722.5 L798.0,723.1 L802.0,723.8 L806.0,723.5 L810.0,723.1 L814.0,722.6 L818.0,723.0 L822.0,723.8 L826.0,724.2 L830.0,724.1 L834.0,724.1 L838.0,724.4 L842.0,724.9 L846.0,724.6 L850.0,725.1 L854.0,724.5 L858.0,724.3 L862.0,724.8 L866.0,725.3 L870.0,725.5 L874.0,725.2 L878.0,724.6 L882.0,725.0 L886.0,724.8 L890.0,724.3 L894.0,723.9 L898.0,723.6 L902.0,723.4 L906.0,723.2 L910.0,723.8 L914.0,723.5 L918.0,722.9 L922.0,722.9 L926.0,723.0 L930.0,722.4 L934.0,722.0 L938.0,721.2 L942.0,721.5 L946.0,721.5 L950.0,721.3 L954.0,720.3 L958.0,720.0 L962.0,719.8 L966.0,719.4 L970.0,717.7 L974.0,718.1 L978.0,717.9 L982.0,718.1 L986.0,718.5 L990.0,719.1 L994.0,719.3 L998.0,719.4 L1002.0,719.7 L1006.0,720.0 L1010.0,720.2 L1014.0,720.4 L1018.0,720.1 L1022.0,720.6 L1026.0,721.0 L1030.0,721.4 L1034.0,720.9 L1038.0,721.1 L1042.0,720.7 L1046.0,720.4 L1050.0,719.9 L1054.0,719.8 L1058.0,720.0 L1062.0,720.4 L1066.0,720.6 L1070.0,720.5 L1074.0,720.8 L1078.0,719.7 L1082.0,720.1 L1086.0,720.9 L1090.0,720.8 L1094.0,721.1 L1098.0,721.4 L1102.0,720.9 L1106.0,721.4 L1110.0,721.0 L1114.0,720.9 L1118.0,721.1 L1122.0,721.0 L1126.0,720.8 L1130.0,720.5 L1134.0,720.3 L1138.0,719.8 L1142.0,719.5 L1146.0,718.7 L1150.0,718.9 L1154.0,718.3 L1158.0,717.8 L1162.0,717.6 L1166.0,717.9 L1170.0,718.2 L1174.0,718.0 L1178.0,718.2 L1182.0,717.2 L1186.0,717.8 L1190.0,717.5 L1194.0,717.4 L1198.0,717.8 L1202.0,717.9 L1206.0,718.2 L1210.0,718.5 L1214.0,718.6 L1218.0,718.8 L1221.0,718.9" fill="none" stroke="#b9c3e6" stroke-width="1"/>
</svg>
<div class="xl" style="left:27.8px">05, 15:10</div>
<div class="xl" style="left:87.8px">05, 16:25</div>
<div class="xl" style="left:147.9px">05, 17:40</div>
<div class="xl" style="left:208.0px">05, 18:55</div>
<div class="xl" style="left:268.0px">05, 20:10</div>
<div class="xl" style="left:328.1px">05, 21:25</div>
<div class="xl" style="left:388.2px">05, 22:40</div>
<div class="xl" style="left:448.2px">05, 23:55</div>
<div class="xl" style="left:508.3px">06, 01:10</div>
<div class="xl" style="left:568.4px">06, 02:25</div>
<div class="xl" style="left:628.5px">06, 03:40</div>
<div class="xl" style="left:688.5px">06, 04:55</div>
<div class="xl" style="left:748.6px">06, 06:10</div>
<div class="xl" style="left:808.7px">06, 07:25</div>
<div class="xl" style="left:868.7px">06, 08:40</div>
<div class="xl" style="left:928.8px">06, 09:55</div>
<div class="xl" style="left:988.9px">06, 11:10</div>
<div class="xl" style="left:1048.9px">06, 12:25</div>
<div class="xl" style="left:1109.0px">06, 13:40</div>
<div class="xl" style="left:1169.1px">06, 14:55</div>

<div class="yl" style="top:120.5px">94.022</div>
<div class="yl" style="top:201.5px">90</div>
<div class="yl" style="top:302.2px">85</div>
<div class="yl" style="top:402.9px">80</div>
<div class="yl" style="top:503.6px">75</div>
<div class="yl" style="top:604.3px">70</div>
<div class="yl" style="top:675.5px">66.51</div>

<div class="wm" style="left:19px;top:723px;">© 2026 CoinGlass, all rights reserved</div>
<div class="wm" style="left:1050px;top:723px;">2026-02-06 15:07:26</div>
<div class="handle" style="left:65.5px"><i></i></div>
<div class="handle" style="left:1216.5px"><i></i></div>
</body></html>
